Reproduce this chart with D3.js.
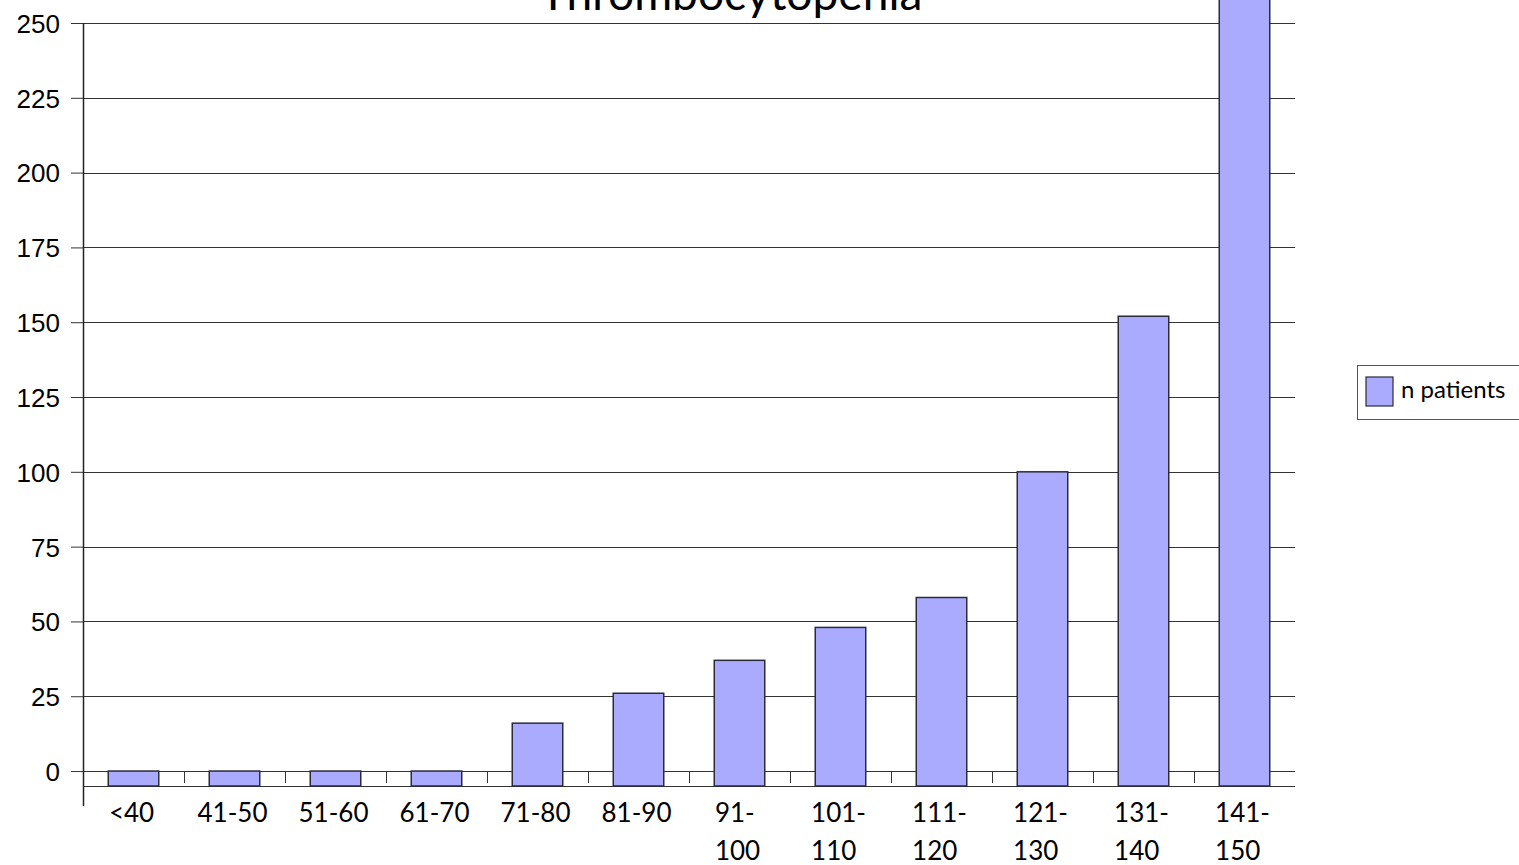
<!DOCTYPE html>
<html>
<head>
<meta charset="utf-8">
<script src="https://cdn.jsdelivr.net/npm/d3@7/dist/d3.min.js"></script>
<style>
  html, body { margin: 0; padding: 0; background: #fff; }
  svg { display: block; font-family: Lato, "Open Sans", sans-serif; }
</style>
</head>
<body>
<svg id="chart" width="1519" height="865"></svg>
<script>
// Platelet count ranges and number of patients per range
const categories = ["<40", "41-50", "51-60", "61-70", "71-80", "81-90",
                    "91-100", "101-110", "111-120", "121-130", "131-140", "141-150"];
const patients = [0, 0, 0, 0, 16, 26, 37, 48, 58, 100, 152, 258];
const yTicks = [0, 25, 50, 75, 100, 125, 150, 175, 200, 225, 250];
const seriesName = "n patients";
const title = "Thrombocytopenia";

const W = 1519, H = 865;
const plot = { left: 83, right: 1295, top: 23, bottom: 786 };
const barFill = "#aaaaff";
const barStroke = "#2b2b3a";

const svg = d3.select("#chart");

const x = d3.scaleBand()
  .domain(categories)
  .range([plot.left, plot.right])
  .paddingInner(0.5)
  .paddingOuter(0.25);

const y = d3.scaleLinear()
  .domain([-5, 250])
  .range([plot.bottom, plot.top]);

// Horizontal gridlines with left-pointing tick marks
const yAxis = d3.axisLeft(y)
  .tickValues(yTicks)
  .tickSize(12)
  .tickPadding(10)
  .tickFormat(d3.format("d"));

const yg = svg.append("g")
  .attr("transform", `translate(${plot.left},0)`)
  .call(yAxis);
yg.select(".domain").remove();
yg.selectAll(".tick line").attr("stroke", "#333").attr("stroke-width", 1);
yg.selectAll(".tick text")
  .attr("fill", "#000")
  .style("font-size", "26px")
  .attr("x", -23)
  .attr("dy", "0.36em");

svg.append("g")
  .selectAll("line")
  .data(yTicks)
  .join("line")
  .attr("x1", plot.left)
  .attr("x2", plot.right)
  .attr("y1", d => Math.round(y(d)) + 0.5)
  .attr("y2", d => Math.round(y(d)) + 0.5)
  .attr("stroke", "#333")
  .attr("stroke-width", 1);

// Category axis: baseline at the axis minimum and boundary ticks between bands
const step = x.step();
const boundaries = categories.slice(1).map(c => x(c) - step * x.paddingInner() / 2);
svg.append("line")
  .attr("x1", plot.left).attr("x2", plot.right)
  .attr("y1", Math.round(y(-5)) + 0.5).attr("y2", Math.round(y(-5)) + 0.5)
  .attr("stroke", "#333").attr("stroke-width", 1);

svg.append("g")
  .selectAll("line")
  .data(boundaries)
  .join("line")
  .attr("x1", d => Math.round(d) + 0.5)
  .attr("x2", d => Math.round(d) + 0.5)
  .attr("y1", y(0) + 1)
  .attr("y2", y(-5) - 3)
  .attr("stroke", "#333")
  .attr("stroke-width", 1);

// Bars, drawn up from the axis minimum
svg.append("g")
  .selectAll("rect")
  .data(categories.map((c, i) => ({ c, v: patients[i] })))
  .join("rect")
  .attr("x", d => x(d.c))
  .attr("width", x.bandwidth())
  .attr("y", d => y(d.v))
  .attr("height", d => y(-5) - y(d.v))
  .attr("fill", barFill)
  .attr("stroke", barStroke)
  .attr("stroke-width", 1.5);

// Value axis line, extending a little below the category axis
svg.append("line")
  .attr("x1", plot.left + 0.5).attr("x2", plot.left + 0.5)
  .attr("y1", y(250)).attr("y2", y(-5) + 20)
  .attr("stroke", "#222").attr("stroke-width", 1.5);

// Category labels; ranges wrap after the hyphen when too wide
const labelG = svg.append("g").style("font-size", "26px").attr("fill", "#000");
categories.forEach(c => {
  const cx = x(c) + x.bandwidth() / 2 - 2;
  const parts = c.length > 5 ? [c.slice(0, c.indexOf("-") + 1), c.slice(c.indexOf("-") + 1)] : [c];
  const t = labelG.append("text").attr("y", 822);
  parts.forEach((p, i) => {
    t.append("tspan").attr("dy", i === 0 ? 0 : 38).text(p);
  });
  if (parts.length === 1) {
    t.attr("x", cx).attr("text-anchor", "middle");
    t.selectAll("tspan").attr("x", cx);
  } else {
    const widths = t.selectAll("tspan").nodes().map(n => n.getComputedTextLength());
    const left = cx - d3.max(widths) / 2;
    t.selectAll("tspan").attr("x", left);
  }
});

// Title, sized to its set width and centred over the plot
const tt = svg.append("text")
  .attr("x", 731)
  .attr("y", 10)
  .attr("text-anchor", "middle")
  .attr("fill", "#000")
  .style("font-size", "40px")
  .text(title);
const tw = tt.node().getComputedTextLength();
tt.style("font-size", (40 * 383 / tw) + "px");

// Legend
const lg = svg.append("g");
lg.append("rect")
  .attr("x", 1357.5).attr("y", 365.5)
  .attr("width", 170).attr("height", 54)
  .attr("fill", "#fff").attr("stroke", "#555").attr("stroke-width", 1);
lg.append("rect")
  .attr("x", 1366).attr("y", 377)
  .attr("width", 27).attr("height", 29)
  .attr("fill", barFill).attr("stroke", barStroke).attr("stroke-width", 1.2);
lg.append("text")
  .attr("x", 1401).attr("y", 398)
  .attr("fill", "#000")
  .style("font-size", "24px")
  .text(seriesName);
</script>
</body>
</html>
